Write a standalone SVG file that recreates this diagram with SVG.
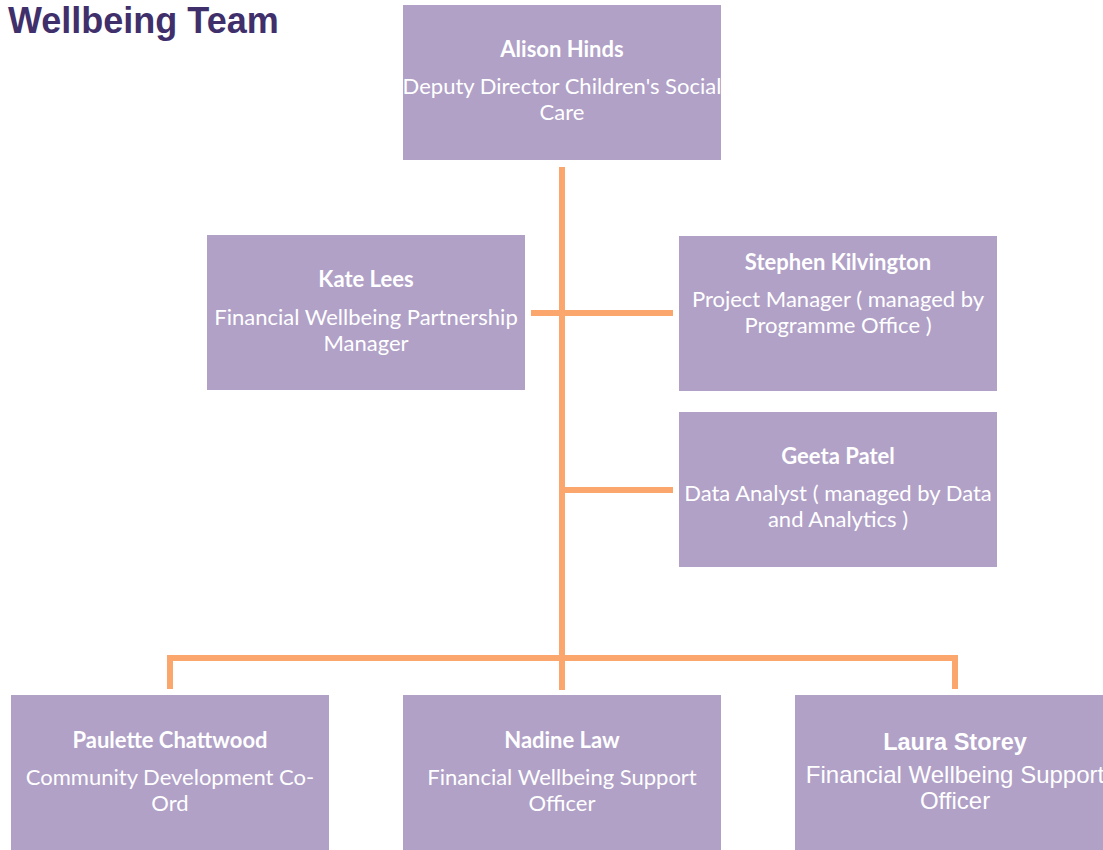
<svg xmlns="http://www.w3.org/2000/svg" width="1103" height="850" viewBox="0 0 1103 850">
<style>
.box{fill:#b1a1c7}
.n{font-family:Lato,"Open Sans",sans-serif;font-weight:bold;font-size:22px;fill:#fff;text-anchor:middle}
.t{font-family:Lato,"Open Sans",sans-serif;font-size:22px;fill:#fff;text-anchor:middle}
.an{font-family:"Liberation Sans",Arial,sans-serif;font-weight:bold;font-size:23.5px;fill:#fff;text-anchor:middle}
.at{font-family:"Liberation Sans",Arial,sans-serif;font-size:24px;fill:#fff;text-anchor:middle}
.c{stroke:#fba66d;stroke-width:6;fill:none}
</style>
<rect width="1103" height="850" fill="#fff"/>
<text x="8" y="33" font-family="Liberation Sans,Arial,sans-serif" font-weight="bold" font-size="36" fill="#3f2f6b">Wellbeing Team</text>
<g id="connectors">
<line class="c" x1="562" y1="167" x2="562" y2="690"/>
<line class="c" x1="531" y1="313" x2="673" y2="313"/>
<line class="c" x1="565" y1="490" x2="673" y2="490"/>
<polyline class="c" points="170,689 170,658 955,658 955,689"/>
</g>
<g id="alison">
<rect class="box" x="403" y="5" width="318" height="155"/>
<text class="n" x="562" y="57">Alison Hinds</text>
<text class="t" x="562" y="94">Deputy Director Children's Social</text>
<text class="t" x="562" y="120">Care</text>
</g>
<g id="kate">
<rect class="box" x="207" y="235" width="318" height="155"/>
<text class="n" x="366" y="287">Kate Lees</text>
<text class="t" x="366" y="325">Financial Wellbeing Partnership</text>
<text class="t" x="366" y="351">Manager</text>
</g>
<g id="stephen">
<rect class="box" x="679" y="236" width="318" height="155"/>
<text class="n" x="838" y="270">Stephen Kilvington</text>
<text class="t" x="838" y="307">Project Manager ( managed by</text>
<text class="t" x="838" y="333">Programme Office )</text>
</g>
<g id="geeta">
<rect class="box" x="679" y="412" width="318" height="155"/>
<text class="n" x="838" y="464">Geeta Patel</text>
<text class="t" x="838" y="501">Data Analyst ( managed by Data</text>
<text class="t" x="838" y="527">and Analytics )</text>
</g>
<g id="paulette">
<rect class="box" x="11" y="695" width="318" height="160"/>
<text class="n" x="170" y="748">Paulette Chattwood</text>
<text class="t" x="170" y="785">Community Development Co-</text>
<text class="t" x="170" y="811">Ord</text>
</g>
<g id="nadine">
<rect class="box" x="403" y="695" width="318" height="160"/>
<text class="n" x="562" y="748">Nadine Law</text>
<text class="t" x="562" y="785">Financial Wellbeing Support</text>
<text class="t" x="562" y="811">Officer</text>
</g>
<g id="laura">
<rect class="box" x="795" y="695" width="318" height="160"/>
<text class="an" x="955" y="750">Laura Storey</text>
<text class="at" x="955" y="783">Financial Wellbeing Support</text>
<text class="at" x="955" y="809">Officer</text>
</g>
</svg>
